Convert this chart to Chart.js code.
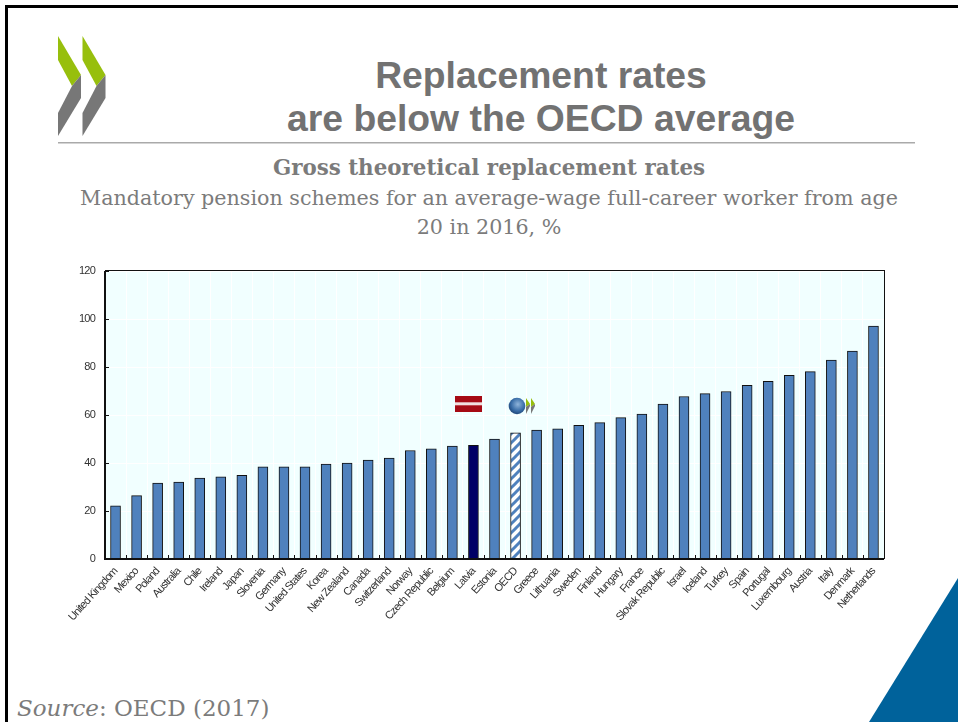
<!DOCTYPE html>
<html>
<head>
<meta charset="utf-8">
<title>Replacement rates</title>
<script src="https://cdn.jsdelivr.net/npm/chart.js@4"></script>
<style>
html, body { margin: 0; padding: 0; background: #fff; }
#page { position: relative; width: 958px; height: 722px; overflow: hidden; }
#page div, #page svg, #page canvas { position: absolute; }
.txt { white-space: nowrap; text-align: center; color: #727272; }
#title { left: 167px; width: 748px; top: 54px; font: bold 37.3px/43px "Liberation Sans", Arial, sans-serif; }
.serif { left: 58px; width: 862px; font-family: "DejaVu Serif", serif; color: #7b7b7b; font-size: 20.65px; line-height: 28px; }
#source { left: 17px; top: 695px; font: 23px/26px "DejaVu Serif", serif; color: #7b7b7b; }
</style>
</head>
<body>
<div id="page">
  <div style="left:5px;top:5px;width:953px;height:3px;background:#000"></div>
  <div style="left:5px;top:5px;width:3px;height:717px;background:#000"></div>

  <svg style="left:0;top:0" width="958" height="722">
    <polygon points="58,36 81,75 72,86 58,60" fill="#97bf0d"/>
    <polygon points="81,75 81,98 58,136 58,113 72,86" fill="#777"/>
    <polygon points="82.5,36 105.5,75 96.5,86 82.5,60" fill="#97bf0d"/>
    <polygon points="105.5,75 105.5,98 82.5,136 82.5,113 96.5,86" fill="#777"/>
    <rect x="58" y="142" width="857" height="1.5" fill="#aaa"/>
    <polygon points="958,578 958,722 869,722" fill="#00629b"/>
  </svg>

  <div class="txt" id="title">Replacement rates<br>are below the OECD average</div>
  <div class="txt serif" style="top:154px;font-weight:bold;font-size:21.4px">Gross theoretical replacement rates</div>
  <div class="txt serif" style="top:184px">Mandatory pension schemes for an average-wage full-career worker from age</div>
  <div class="txt serif" style="top:213px">20 in 2016, %</div>
  <div class="txt" id="source"><i>Source</i>: OECD (2017)</div>

  <canvas id="chart" width="958" height="722" style="left:0;top:0"></canvas>

  <svg style="left:0;top:0" width="958" height="722">
    <defs>
      <radialGradient id="globe" cx="0.55" cy="0.4" r="0.65">
        <stop offset="0" stop-color="#8fb4da"/>
        <stop offset="0.6" stop-color="#3a6ea8"/>
        <stop offset="1" stop-color="#1a3f70"/>
      </radialGradient>
    </defs>
    <rect x="455" y="396" width="27" height="16" fill="#a60a14"/>
    <rect x="455" y="402.3" width="27" height="3" fill="#f1dede"/>
    <circle cx="517" cy="406" r="8.3" fill="url(#globe)"/>
    <polygon points="526,398 530,404 526,407 526,403" fill="#97bf0d"/>
    <polygon points="526,407 530,404 530,406 526,414" fill="#777"/>
    <polygon points="531,398 535,404 531,407 531,403" fill="#97bf0d"/>
    <polygon points="531,407 535,404 535,406 531,414" fill="#777"/>
  </svg>
</div>

<script>
// Data
const countries = ['United Kingdom', 'Mexico', 'Poland', 'Australia', 'Chile', 'Ireland', 'Japan', 'Slovenia',
    'Germany', 'United States', 'Korea', 'New Zealand', 'Canada', 'Switzerland', 'Norway', 'Czech Republic',
    'Belgium', 'Latvia', 'Estonia', 'OECD', 'Greece', 'Lithuania', 'Sweden', 'Finland', 'Hungary', 'France',
    'Slovak Republic', 'Israel', 'Iceland', 'Turkey', 'Spain', 'Portugal', 'Luxembourg', 'Austria', 'Italy',
    'Denmark', 'Netherlands'];
const rates = [22.2, 26.4, 31.6, 32.1, 33.7, 34.2, 34.9, 38.4,
    38.4, 38.4, 39.5, 40, 41.2, 42.1, 45.2, 45.9,
    47, 47.4, 50, 52.6, 53.7, 54.2, 55.7, 56.8, 58.9, 60.4,
    64.6, 67.7, 68.9, 69.8, 72.4, 74, 76.5, 78.1, 82.9,
    86.6, 97];
const yTicks = [0, 20, 40, 60, 80, 100, 120];

const barBlue = '#4f81bd';
const latviaBlue = '#000066';

// Hachures pour la barre OECD
function hatchPattern() {
    const tile = document.createElement('canvas');
    tile.width = 9;
    tile.height = 9;
    const c = tile.getContext('2d');
    c.fillStyle = '#fff';
    c.fillRect(0, 0, 9, 9);
    c.strokeStyle = barBlue;
    c.lineWidth = 3;
    [[-9, 9, 9, -9], [0, 9, 9, 0], [0, 18, 18, 0]].forEach(l => {
        c.beginPath();
        c.moveTo(l[0], l[1]);
        c.lineTo(l[2], l[3]);
        c.stroke();
    });
    return c.createPattern(tile, 'repeat');
}

const hatch = hatchPattern();
const barColors = countries.map(name => {
    if (name === 'Latvia') return latviaBlue;
    if (name === 'OECD') return hatch;
    return barBlue;
});

// Plot background, frame and inner tick marks
const plotFrame = {
    id: 'plotFrame',
    beforeDraw(chart) {
        const a = chart.chartArea;
        chart.ctx.fillStyle = '#f1ffff';
        chart.ctx.fillRect(a.left, a.top, a.width, a.height);
        chart.ctx.letterSpacing = '-0.8px';
    },
    afterDraw(chart) {
        const ctx = chart.ctx;
        const a = chart.chartArea;
        const x = chart.scales.x;
        const y = chart.scales.y;
        const step = a.width / countries.length;
        ctx.save();
        ctx.strokeStyle = '#111';
        ctx.lineWidth = 1;
        ctx.beginPath();
        yTicks.forEach(v => {
            const p = Math.round(y.getPixelForValue(v)) + 0.5;
            ctx.moveTo(a.left, p);
            ctx.lineTo(a.left + 4, p);
        });
        countries.forEach((name, i) => {
            const p = Math.round(x.getPixelForValue(i) + step / 2) + 0.5;
            ctx.moveTo(p, a.bottom);
            ctx.lineTo(p, a.bottom - 4);
        });
        ctx.stroke();
        ctx.strokeRect(a.left + 0.5, a.top - 0.5, a.width, a.height);
        ctx.lineWidth = 2;
        ctx.beginPath();
        ctx.moveTo(a.left, a.top);
        ctx.lineTo(a.left, a.bottom);
        ctx.lineTo(a.right, a.bottom);
        ctx.stroke();
        ctx.restore();
    }
};

new Chart(document.getElementById('chart').getContext('2d'), {
    type: 'bar',
    data: {
        labels: countries,
        datasets: [{
            data: rates,
            backgroundColor: barColors,
            borderColor: '#111',
            borderWidth: { top: 1, left: 1, right: 1, bottom: 0 },
            barThickness: 10
        }]
    },
    options: {
        responsive: false,
        animation: false,
        layout: { padding: { left: 70, right: 74, top: 271, bottom: 0 } },
        plugins: { legend: { display: false }, tooltip: { enabled: false } },
        scales: {
            x: {
                afterFit: scale => { scale.height = 163; },
                border: { display: false },
                grid: { color: '#fff', lineWidth: 1, drawTicks: false, offset: true },
                ticks: {
                    autoSkip: false,
                    maxRotation: 48,
                    minRotation: 48,
                    padding: 6,
                    color: '#333',
                    font: { family: '"Liberation Sans", Arial, sans-serif', size: 11 }
                }
            },
            y: {
                min: 0,
                max: 120,
                afterFit: scale => { scale.width = 35; },
                afterBuildTicks: scale => { scale.ticks = yTicks.map(v => ({ value: v })); },
                border: { display: false },
                grid: { color: '#fff', lineWidth: 1, drawTicks: false },
                ticks: {
                    padding: 10,
                    color: '#333',
                    font: { family: '"Liberation Sans", Arial, sans-serif', size: 11 }
                }
            }
        }
    },
    plugins: [plotFrame]
});
</script>
</body>
</html>
